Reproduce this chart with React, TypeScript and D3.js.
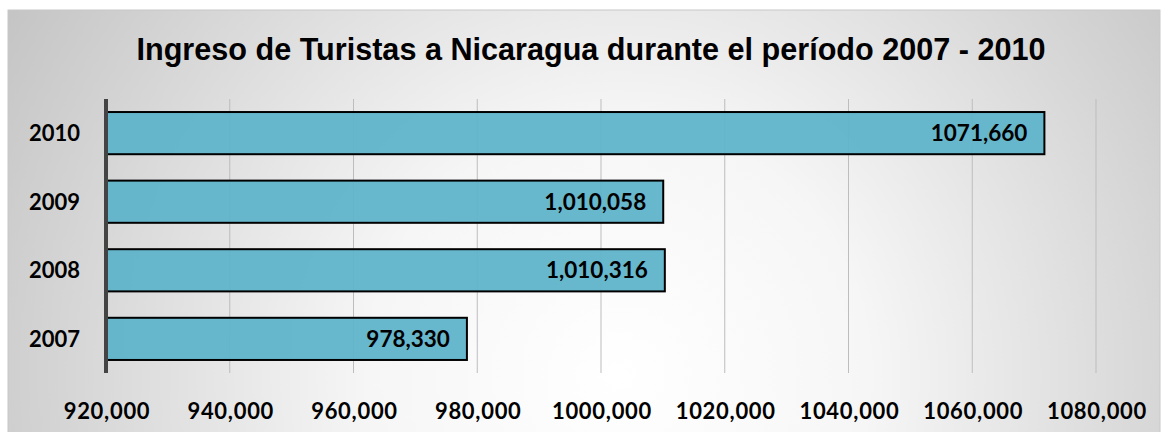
import React from "react";
import * as d3 from "d3";

const years = ["2010", "2009", "2008", "2007"];
const visitors = [1071660, 1010058, 1010316, 978330];
const valueLabels = ["1071,660", "1,010,058", "1,010,316", "978,330"];
const xTicks = [920000, 940000, 960000, 980000, 1000000, 1020000, 1040000, 1060000, 1080000];
const xTickLabels = ["920,000", "940,000", "960,000", "980,000", "1000,000", "1020,000", "1040,000", "1060,000", "1080,000"];
const title = "Ingreso de Turistas a Nicaragua durante el período 2007 - 2010";

export default function App() {
  const W = 1164, H = 432;
  const x = d3.scaleLinear().domain([920000, 1080000]).range([106, 1096]);
  const y = d3.scaleBand().domain(years).range([99, 373]).paddingInner(0.385).paddingOuter(0.19);
  const font = "Lato, 'Open Sans', sans-serif";
  return (
    <svg width={W} height={H} style={{ position: "absolute", left: 0, top: 0 }}>
      <defs>
        <radialGradient id="bg" cx="0.53" cy="0.85" r="0.62" gradientUnits="objectBoundingBox" gradientTransform="translate(0.53,0.85) scale(1,2.7) translate(-0.53,-0.85)">
          <stop offset="0" stopColor="#ffffff" />
          <stop offset="0.35" stopColor="#f6f6f6" />
          <stop offset="1" stopColor="#c4c4c4" />
        </radialGradient>
      </defs>
      <rect x={0} y={0} width={W} height={H} fill="#ffffff" />
      <rect x={8} y={10} width={1152} height={430} fill="url(#bg)" stroke="#c8c8c8" strokeWidth={1} />
      <text x={591} y={60} textAnchor="middle" fontFamily="'Liberation Sans', Arial, sans-serif" fontWeight="bold" fontSize={30.6} fill="#000">{title}</text>
      {xTicks.map((t, i) => (
        <g key={t}>
          {i > 0 && <line x1={x(t)} x2={x(t)} y1={99} y2={373} stroke="#bdbdbd" strokeWidth={1} />}
          <text x={x(t) + 1} y={419} textAnchor="middle" fontFamily={font} fontWeight="bold" fontSize={22} letterSpacing={0.7} fill="#000">{xTickLabels[i]}</text>
        </g>
      ))}
      {years.map((yr, i) => (
        <g key={yr}>
          <rect x={x(920000) + 1} y={y(yr)!} width={x(visitors[i]) - x(920000) - 1} height={y.bandwidth()} fill="#5fb3ca" fillOpacity={0.95} stroke="#000" strokeWidth={2} />
          <text x={x(visitors[i]) - 17} y={y(yr)! + y.bandwidth() / 2 + 8} textAnchor="end" fontFamily={font} fontWeight="bold" fontSize={22.5} fill="#000">{valueLabels[i]}</text>
          <text x={80} y={y(yr)! + y.bandwidth() / 2 + 8} textAnchor="end" fontFamily={font} fontWeight="bold" fontSize={22} fill="#000">{yr}</text>
        </g>
      ))}
      <line x1={x(920000)} x2={x(920000)} y1={99} y2={373} stroke="#444" strokeWidth={4} />
    </svg>
  );
}
